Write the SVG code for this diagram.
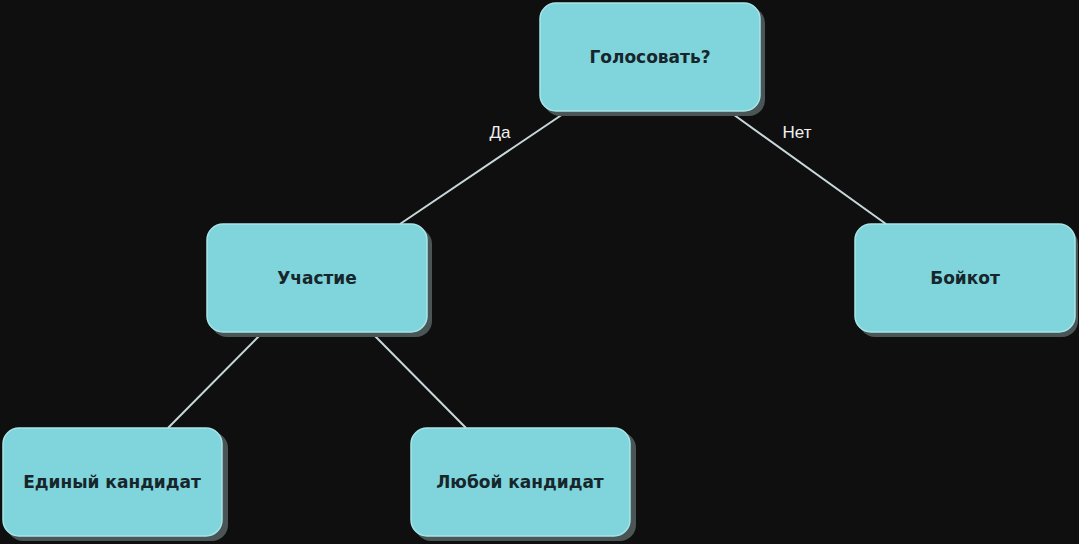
<svg xmlns="http://www.w3.org/2000/svg" width="1079" height="544" viewBox="0 0 1079 544">
<defs><style>
.sh{fill:#4a5556}
.bx{fill:#80d4db;stroke:#a8e6ea;stroke-width:1.5}
.t{font-family:"DejaVu Sans",sans-serif;font-size:17px;fill:#16262b;text-anchor:middle;dominant-baseline:central;font-weight:bold}
.l{font-family:"Liberation Sans",sans-serif;font-size:17px;fill:#f0f0f0;text-anchor:middle}
.c{stroke:#c8d8da;stroke-width:2;fill:none}
</style></defs>
<rect width="1079" height="544" fill="#0f0f0f"/>
<g id="connectors">
<line class="c" x1="566" y1="112" x2="400" y2="224"/>
<line class="c" x1="730" y1="112" x2="886" y2="224"/>
<line class="c" x1="262" y1="333" x2="168" y2="428"/>
<line class="c" x1="372" y1="333" x2="466" y2="428"/>
<text class="l" x="500" y="138">Да</text>
<text class="l" x="797" y="138">Нет</text>
</g>
<g id="n1"><rect class="sh" x="544" y="7" width="221" height="109" rx="16"/><rect class="bx" x="540" y="3" width="220" height="108" rx="16"/><text class="t" x="650" y="57">Голосовать?</text></g>
<g id="n2"><rect class="sh" x="211" y="228" width="221" height="109" rx="16"/><rect class="bx" x="207" y="224" width="220" height="108" rx="16"/><text class="t" x="317" y="278">Участие</text></g>
<g id="n3"><rect class="sh" x="859" y="228" width="219" height="109" rx="16"/><rect class="bx" x="855" y="224" width="220" height="108" rx="16"/><text class="t" x="965" y="278">Бойкот</text></g>
<g id="n4"><rect class="sh" x="7" y="432" width="221" height="109" rx="16"/><rect class="bx" x="3" y="428" width="219" height="108" rx="16"/><text class="t" x="112" y="482">Единый кандидат</text></g>
<g id="n5"><rect class="sh" x="415" y="432" width="221" height="109" rx="16"/><rect class="bx" x="411" y="428" width="219" height="108" rx="16"/><text class="t" x="520" y="482">Любой кандидат</text></g>
</svg>
